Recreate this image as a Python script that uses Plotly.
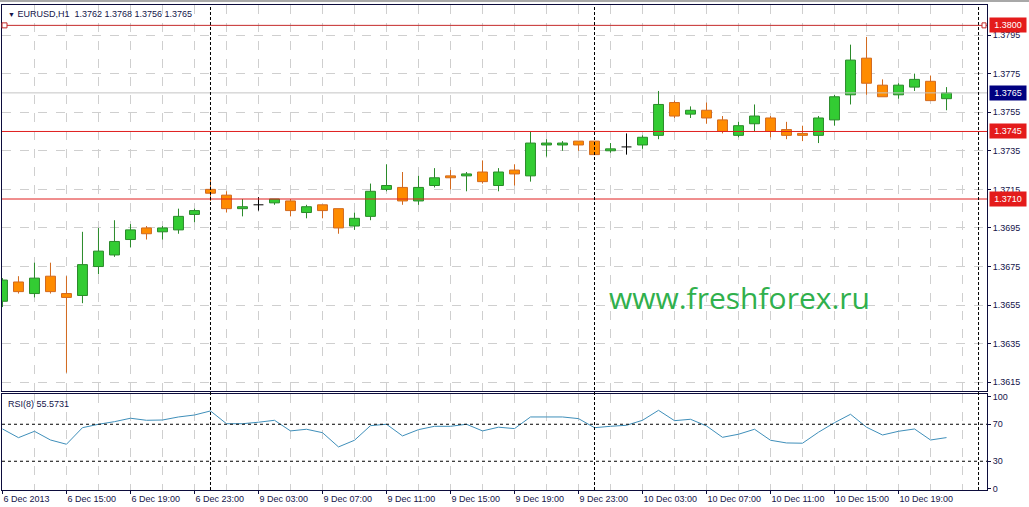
import plotly.graph_objects as go

# ---------------- data ----------------
opens = [1.3657, 1.3667, 1.3661, 1.3670, 1.3661, 1.3660, 1.3675, 1.3681, 1.3689, 1.3695,
         1.3693, 1.3694, 1.3702, 1.3715, 1.3712, 1.3705, 1.3707, 1.3708, 1.3709, 1.3703,
         1.3707, 1.3705, 1.3696, 1.3701, 1.3715, 1.3716, 1.3709, 1.3717, 1.3722, 1.3722,
         1.3724, 1.3717, 1.3725, 1.3722, 1.3738, 1.3738, 1.3740, 1.3740, 1.3735, 1.3737,
         1.3738, 1.3743, 1.3760, 1.3754, 1.3756, 1.3751, 1.3743, 1.3749, 1.3752, 1.3746,
         1.3744, 1.3743, 1.3751, 1.3764, 1.3783, 1.3769, 1.3764, 1.3768, 1.3771, 1.3762]
highs = [1.3669, 1.3670, 1.3677, 1.3677, 1.3670, 1.3693, 1.3695, 1.3699, 1.3697, 1.3696,
         1.3696, 1.3705, 1.3705, 1.3720, 1.3714, 1.3710, 1.3711, 1.3710, 1.3710, 1.3707,
         1.3707, 1.3705, 1.3703, 1.3718, 1.3728, 1.3724, 1.3722, 1.3726, 1.3725, 1.3724,
         1.3730, 1.3726, 1.3728, 1.3745, 1.3741, 1.3740, 1.3740, 1.3740, 1.3739, 1.3744,
         1.3743, 1.3766, 1.3761, 1.3758, 1.3760, 1.3753, 1.3750, 1.3759, 1.3753, 1.3750,
         1.3748, 1.3753, 1.3764, 1.3790, 1.3794, 1.3772, 1.3770, 1.3775, 1.3774, 1.3768]
lows = [1.3654, 1.3661, 1.3659, 1.3661, 1.3620, 1.3656, 1.3671, 1.3680, 1.3685, 1.3689,
        1.3689, 1.3692, 1.3698, 1.3709, 1.3703, 1.3701, 1.3704, 1.3707, 1.3701, 1.3700,
        1.3700, 1.3692, 1.3694, 1.3699, 1.3714, 1.3707, 1.3707, 1.3716, 1.3715, 1.3714,
        1.3718, 1.3714, 1.3717, 1.3719, 1.3732, 1.3735, 1.3735, 1.3733, 1.3734, 1.3733,
        1.3736, 1.3741, 1.3752, 1.3752, 1.3749, 1.3744, 1.3742, 1.3745, 1.3742, 1.3741,
        1.3740, 1.3739, 1.3748, 1.3759, 1.3764, 1.3763, 1.3762, 1.3766, 1.3761, 1.3756]
closes = [1.3668, 1.3662, 1.3669, 1.3662, 1.3659, 1.3676, 1.3683, 1.3688, 1.3694, 1.3692,
          1.3695, 1.3701, 1.3704, 1.3713, 1.3705, 1.3706, 1.3707, 1.3710, 1.3704, 1.3706,
          1.3704, 1.3695, 1.3700, 1.3714, 1.3717, 1.3709, 1.3716, 1.3721, 1.3721, 1.3723,
          1.3719, 1.3724, 1.3723, 1.3739, 1.3739, 1.3739, 1.3738, 1.3733, 1.3736, 1.3737,
          1.3742, 1.3759, 1.3753, 1.3756, 1.3752, 1.3745, 1.3748, 1.3753, 1.3745, 1.3743,
          1.3743, 1.3752, 1.3763, 1.3782, 1.3770, 1.3763, 1.3769, 1.3772, 1.3761, 1.3765]
rsi = [64.9, 55.5, 62.4, 53.0, 48.4, 66.3, 70.0, 72.8, 76.5, 74.3,
       74.6, 77.9, 80.0, 84.4, 70.6, 70.6, 72.2, 74.3, 62.8, 64.6,
       60.9, 45.5, 52.7, 68.5, 70.0, 57.4, 64.2, 67.8, 67.8, 70.0,
       62.8, 66.8, 65.3, 77.9, 77.9, 77.9, 76.1, 66.3, 67.8, 68.9,
       74.3, 85.1, 73.9, 75.4, 68.2, 55.9, 59.2, 64.6, 52.7, 49.8,
       49.5, 61.4, 71.7, 80.8, 66.8, 58.4, 62.4, 64.9, 53.0, 55.6]

tick_labels = ["6 Dec 2013", "6 Dec 15:00", "6 Dec 19:00", "6 Dec 23:00", "9 Dec 03:00",
               "9 Dec 07:00", "9 Dec 11:00", "9 Dec 15:00", "9 Dec 19:00", "9 Dec 23:00",
               "10 Dec 03:00", "10 Dec 07:00", "10 Dec 11:00", "10 Dec 15:00", "10 Dec 19:00"]
tick_bars = [0, 4, 8, 12, 16, 20, 24, 28, 32, 36, 40, 44, 48, 52, 56]
grid_bars = [0, 2, 4, 6, 8, 10, 12, 14, 16, 18, 20, 22, 24, 26, 28, 30, 32, 34, 36, 38,
             40, 42, 44, 46, 48, 50, 52, 54, 56, 58, 60]
day_breaks = [13, 37, 61]
price_ticks = [1.3615, 1.3635, 1.3655, 1.3675, 1.3695, 1.3715, 1.3735, 1.3755, 1.3775, 1.3795]
price_levels = [1.3800, 1.3745, 1.3710]
rsi_ticks = [0, 30, 70, 100]
rsi_levels = [30, 70]
symbol = "EURUSD,H1"
rsi_name = "RSI(8) 55.5731"
watermark = "www.freshforex.ru"

# ---------------- styles ----------------
UP_FILL, UP_EDGE = "#33cc33", "#2a8a2a"
DN_FILL, DN_EDGE = "#ff8c00", "#d2691e"
GRID = "#cfcfcf"
FRAME = "#0c0c3c"
TXT = "#14144a"
FONT = "Liberation Sans"
RED = "#e41b1b"
LINE_RED = "#e01e1e"

n = len(opens)
xs = list(range(n))
xr = [-0.03, 61.53]

fill, edge, base, height = [], [], [], []
for o, c in zip(opens, closes):
    base.append(min(o, c))
    height.append(abs(c - o))
    if c > o:
        fill.append(UP_FILL); edge.append(UP_EDGE)
    elif c < o:
        fill.append(DN_FILL); edge.append(DN_EDGE)
    else:
        fill.append("rgba(0,0,0,0)"); edge.append("rgba(0,0,0,0)")

fig = go.Figure()

# current price line and horizontal levels (drawn as traces across the whole panel)
fig.add_trace(go.Scatter(x=xr, y=[closes[-1], closes[-1]], mode="lines",
                         line=dict(color="#c4c4c4", width=1), xaxis="x", yaxis="y", hoverinfo="skip"))

fig.add_trace(go.Bar(x=xs, y=height, base=base, width=0.62,
                     marker=dict(color=fill, line=dict(color=edge, width=1)),
                     xaxis="x", yaxis="y", hoverinfo="skip"))

wick = {"up": ([], []), "dn": ([], []), "doji": ([], [])}
for i, (o, h, l, c) in enumerate(zip(opens, highs, lows, closes)):
    key = "up" if c > o else ("dn" if c < o else "doji")
    wx, wy = wick[key]
    top, bot = max(o, c), min(o, c)
    wx += [i, i, None, i, i, None]
    wy += [top, h, None, l, bot, None]
    if key == "doji":
        wx += [i - 0.31, i + 0.31, None]
        wy += [o, o, None]
for key, col in (("up", UP_EDGE), ("dn", DN_EDGE), ("doji", "#000000")):
    wx, wy = wick[key]
    fig.add_trace(go.Scatter(x=wx, y=wy, mode="lines", line=dict(color=col, width=1),
                             xaxis="x", yaxis="y", hoverinfo="skip"))

for j, lv in enumerate(price_levels):
    col = "#c42a2a" if j == 0 else LINE_RED
    fig.add_trace(go.Scatter(x=xr, y=[lv, lv], mode="lines", line=dict(color=col, width=1),
                             xaxis="x", yaxis="y", hoverinfo="skip"))

fig.add_trace(go.Scatter(x=xs, y=rsi, mode="lines", line=dict(color="#3f8fba", width=1),
                         xaxis="x2", yaxis="y2", hoverinfo="skip"))

fig.update_layout(
    width=1029, height=507,
    margin=dict(l=2, r=42, t=5, b=17),
    paper_bgcolor="white", plot_bgcolor="white",
    showlegend=False, barmode="overlay",
    font=dict(family=FONT, size=9, color=TXT),
    xaxis=dict(domain=[0, 1], range=xr, anchor="y", tickvals=grid_bars,
               showticklabels=False, ticks="", showgrid=True, gridcolor=GRID,
               griddash="dash", gridwidth=1, zeroline=False,
               showline=True, mirror=True, linecolor=FRAME, linewidth=1),
    yaxis=dict(domain=[0.2041, 1], range=[1.361049, 1.381055], anchor="x", side="right",
               tickvals=price_ticks, ticktext=[f"{v:.4f}" for v in price_ticks],
               ticks="outside", ticklen=3, tickcolor=FRAME,
               showgrid=True, gridcolor=GRID, griddash="dash", zeroline=False,
               showline=True, mirror=True, linecolor=FRAME, linewidth=1,
               tickfont=dict(family=FONT, size=9, color=TXT)),
    xaxis2=dict(domain=[0, 1], range=xr, anchor="y2", tickvals=tick_bars, ticktext=tick_labels,
                ticks="outside", ticklen=3, tickcolor=FRAME, ticklabelposition="outside right",
                showgrid=True, gridcolor=GRID, griddash="dash", zeroline=False,
                minor=dict(tickvals=grid_bars, showgrid=True, gridcolor=GRID, griddash="dash", ticks=""),
                showline=True, mirror=True, linecolor=FRAME, linewidth=1,
                tickfont=dict(family=FONT, size=9, color=TXT)),
    yaxis2=dict(domain=[0, 0.1979], range=[-1.08, 102.7], anchor="x2", side="right",
                tickvals=rsi_ticks, ticktext=[str(v) for v in rsi_ticks],
                ticks="outside", ticklen=3, tickcolor=FRAME, showgrid=False, zeroline=False,
                showline=True, mirror=True, linecolor=FRAME, linewidth=1,
                tickfont=dict(family=FONT, size=9, color=TXT)),
)

shapes = []
# window top edge
shapes.append(dict(type="line", xref="paper", yref="paper", x0=-0.01, x1=1.05,
                   y0=1.00825, y1=1.00825, line=dict(color="#a8a8a8", width=2)))
# anchor squares of the top level
for anc, a0, a1 in ((0, 0, 5), (1, -5, -1)):
    shapes.append(dict(type="rect", xref="x domain", yref="y", xsizemode="pixel", ysizemode="pixel",
                       xanchor=anc, yanchor=price_levels[0], x0=a0, x1=a1, y0=-2.5, y1=2.5,
                       fillcolor="white", line=dict(color="#c42a2a", width=1)))
# RSI levels
for lv in rsi_levels:
    shapes.append(dict(type="line", xref="x2 domain", yref="y2", x0=0, x1=1, y0=lv, y1=lv,
                       line=dict(color="#000000", width=1, dash="3px,3px")))
# day separators
for d in day_breaks:
    shapes.append(dict(type="line", xref="x", yref="paper", x0=d, x1=d, y0=0, y1=1,
                       line=dict(color="#000000", width=1, dash="3px,2px")))
fig.update_layout(shapes=shapes)

ann = []
for j, lv in enumerate(price_levels):
    ann.append(dict(x=1, xref="paper", xanchor="left", xshift=2, y=lv, yref="y", yanchor="middle",
                    text=f"{lv:.4f}", showarrow=False, bgcolor=RED, width=34, height=12,
                    font=dict(family=FONT, size=9, color="white")))
ann.append(dict(x=1, xref="paper", xanchor="left", xshift=2, y=closes[-1], yref="y", yanchor="middle",
                text=f"{closes[-1]:.4f}", showarrow=False, bgcolor="#000080", width=34, height=12,
                font=dict(family=FONT, size=9, color="white")))
ann.append(dict(x=0.004, xref="paper", xanchor="left", y=0.9814, yref="paper", yanchor="middle",
                text=f"<span style='font-size:7px'>▼</span> {symbol}  {opens[-1]:.4f} {highs[-1]:.4f} {lows[-1]:.4f} {closes[-1]:.4f}",
                showarrow=False, font=dict(family=FONT, size=9, color=TXT)))
ann.append(dict(x=0.004, xref="paper", xanchor="left", y=0.1773, yref="paper", yanchor="middle",
                text=rsi_name, showarrow=False, font=dict(family=FONT, size=9, color=TXT)))
ann.append(dict(x=0.6142, xref="paper", xanchor="left", y=0.396, yref="paper", yanchor="middle",
                text=watermark, showarrow=False, font=dict(family="Open Sans", size=30, color="#30b04c")))
fig.update_layout(annotations=ann)

fig.write_html("out.html", config={"displayModeBar": False},
               post_script="document.body.style.margin='0px';document.body.style.overflow='hidden';")
